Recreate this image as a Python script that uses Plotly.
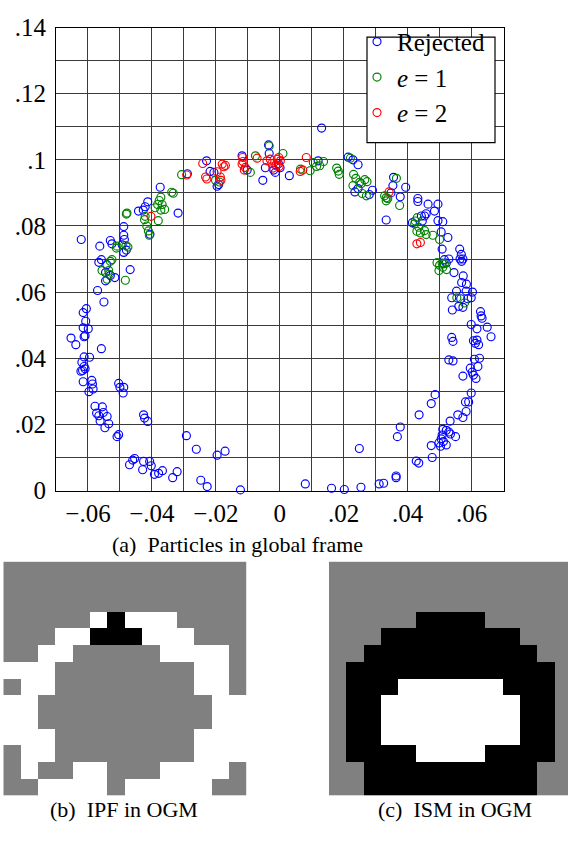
import plotly.graph_objects as go

# ---------------- data ----------------
rej_x = [
    -0.0570, -0.0550, -0.0605, -0.0615, -0.0607, -0.0615, -0.0599, -0.0609, -0.0612, -0.0653,
    -0.0638, -0.0558, -0.0612, -0.0595, -0.0619, -0.0612, -0.0617, -0.0609, -0.0622, -0.0615,
    -0.0588, -0.0586, -0.0584, -0.0597, -0.0504, -0.0500, -0.0488, -0.0490, -0.0578, -0.0555,
    -0.0573, -0.0566, -0.0552, -0.0540, -0.0562, -0.0535, -0.0547, -0.0426, -0.0423, -0.0413,
    -0.0504, -0.0509, -0.0292, -0.0261, -0.0454, -0.0460, -0.0470, -0.0426, -0.0407, -0.0429,
    -0.0402, -0.0392, -0.0379, -0.0367, -0.0335, -0.0321, -0.0247, -0.0227, -0.0196, -0.0171,
    -0.0123,
    0.0080, 0.0162, 0.0202, 0.0254, 0.0249, 0.0311, 0.0325, 0.0364, 0.0364, 0.0368,
    0.0377, 0.0436, 0.0474, 0.0486, 0.0427, 0.0435, 0.0477, 0.0474, 0.0503, 0.0521,
    0.0498, 0.0512, 0.0505, 0.0508, 0.0550, 0.0534, 0.0529, 0.0521, 0.0510, 0.0533,
    0.0573, 0.0557, 0.0583, 0.0581, 0.0591, 0.0599, 0.0573, 0.0614, 0.0606, 0.0602,
    0.0596, 0.0620, 0.0609, 0.0625, 0.0529, 0.0542, 0.0606, 0.0617, 0.0612, 0.0622,
    0.0538, 0.0542, 0.0661, 0.0649, 0.0617, 0.0599, 0.0628, 0.0630, 0.0633, 0.0540,
    0.0560, 0.0573, 0.0566, 0.0588, 0.0599, 0.0538, 0.0553, 0.0583, 0.0603, 0.0545,
    0.0574, 0.0569, 0.0584, 0.0515, 0.0564, 0.0569,
    -0.0621, -0.0563, -0.0530, -0.0525, -0.0488, -0.0488, -0.0486, -0.0493, -0.0488, -0.0480,
    -0.0442, -0.0421, -0.0413, -0.0427, -0.0374, -0.0318, -0.0406, -0.0289, -0.0558, -0.0566,
    -0.0541, -0.0545, -0.0530, -0.0516, -0.0545, -0.0468,
    -0.0229, -0.0206, -0.0218, -0.0191, -0.0196, -0.0118, -0.0102, -0.0053, -0.0035, -0.0033,
    -0.0004, 0.0001, -0.0019, -0.0014, 0.0030, -0.0045,
    0.0131, 0.0120, 0.0214, 0.0229, 0.0245, 0.0245, 0.0235, 0.0290, 0.0280, 0.0356,
    0.0354, 0.0348, 0.0377, 0.0394, 0.0333, 0.0432, 0.0432, 0.0464, 0.0495, 0.0484,
    0.0443, 0.0453, 0.0458, 0.0446, 0.0495, 0.0510, 0.0505, 0.0526, 0.0508, 0.0563,
    0.0568, 0.0573, 0.0521, 0.0529, 0.0415,
]
rej_y = [
    0.0605, 0.0570, 0.0550, 0.0538, 0.0512, 0.0492, 0.0489, 0.0468, 0.0465, 0.0461,
    0.0441, 0.0429, 0.0404, 0.0403, 0.0388, 0.0375, 0.0363, 0.0368, 0.0361, 0.0329,
    0.0333, 0.0322, 0.0307, 0.0299, 0.0324, 0.0312, 0.0312, 0.0295, 0.0255, 0.0253,
    0.0234, 0.0226, 0.0236, 0.0224, 0.0210, 0.0202, 0.0190, 0.0229, 0.0219, 0.0209,
    0.0169, 0.0163, 0.0166, 0.0125, 0.0097, 0.0092, 0.0078, 0.0088, 0.0088, 0.0063,
    0.0075, 0.0049, 0.0052, 0.0060, 0.0039, 0.0057, 0.0031, 0.0012, 0.0107, 0.0119,
    0.0002,
    0.0020, 0.0007, 0.0003, 0.0010, 0.0127, 0.0020, 0.0022, 0.0044, 0.0039, 0.0163,
    0.0192, 0.0229, 0.0263, 0.0290, 0.0089, 0.0083, 0.0100, 0.0136, 0.0134, 0.0138,
    0.0144, 0.0148, 0.0156, 0.0168, 0.0163, 0.0171, 0.0177, 0.0182, 0.0185, 0.0210,
    0.0221, 0.0229, 0.0239, 0.0268, 0.0268, 0.0295, 0.0346, 0.0339, 0.0349, 0.0358,
    0.0370, 0.0375, 0.0397, 0.0400, 0.0395, 0.0392, 0.0453, 0.0455, 0.0445, 0.0441,
    0.0463, 0.0451, 0.0465, 0.0494, 0.0489, 0.0502, 0.0541, 0.0528, 0.0521, 0.0546,
    0.0557, 0.0554, 0.0580, 0.0580, 0.0583, 0.0583, 0.0603, 0.0603, 0.0600, 0.0659,
    0.0649, 0.0629, 0.0624, 0.0698, 0.0700, 0.0693,
    0.0759, 0.0739, 0.0756, 0.0746, 0.0798, 0.0772, 0.0759, 0.0743, 0.0720, 0.0727,
    0.0845, 0.0858, 0.0873, 0.0848, 0.0917, 0.0839, 0.0775, 0.0958, 0.0698, 0.0690,
    0.0683, 0.0659, 0.0650, 0.0644, 0.0634, 0.0668,
    0.0997, 0.0962, 0.0965, 0.0925, 0.0920, 0.1012, 0.0969, 0.0938, 0.1045, 0.1019,
    0.0988, 0.0976, 0.0969, 0.0962, 0.0952, 0.0976,
    0.1096, 0.0997, 0.1008, 0.1000, 0.0985, 0.0913, 0.0903, 0.0908, 0.0895, 0.0947,
    0.0922, 0.0900, 0.0888, 0.0917, 0.0818, 0.0883, 0.0874, 0.0866, 0.0866, 0.0845,
    0.0830, 0.0830, 0.0837, 0.0815, 0.0816, 0.0813, 0.0782, 0.0765, 0.0730, 0.0730,
    0.0714, 0.0700, 0.0688, 0.0700, 0.0810,
]

e1_x = [
    -0.0509, -0.0511, -0.0475, -0.0481, -0.0478, -0.0480, -0.0372, -0.0377, -0.0382, -0.0368,
    -0.0360, -0.0372, -0.0390, -0.0338, -0.0333, -0.0421, -0.0423, -0.0416, -0.0411, -0.0408,
    -0.0380, -0.0307, -0.0530, -0.0525, -0.0556, -0.0535, -0.0533, -0.0540, -0.0483,
    -0.0201, -0.0189, -0.0092, -0.0076, -0.0033, 0.0010, 0.0065, 0.0095, 0.0105, 0.0115,
    0.0137, 0.0125, 0.0178, 0.0183, 0.0186, 0.0221, 0.0231, 0.0238, 0.0250, 0.0255,
    0.0266, 0.0273, 0.0229, 0.0258, 0.0271, 0.0365, 0.0328, 0.0333, 0.0338, 0.0333,
    0.0375, 0.0422, 0.0424, 0.0430, 0.0435, 0.0429, 0.0440, 0.0453, 0.0458, 0.0479,
    0.0500, 0.0492, 0.0500, 0.0508, 0.0515, 0.0498, 0.0510, 0.0522, 0.0554, 0.0578,
]
e1_y = [
    0.0739, 0.0733, 0.0736, 0.0741, 0.0839, 0.0836, 0.0887, 0.0877, 0.0865, 0.0865,
    0.0850, 0.0848, 0.0855, 0.0902, 0.0899, 0.0829, 0.0819, 0.0800, 0.0785, 0.0772,
    0.0816, 0.0955, 0.0693, 0.0698, 0.0665, 0.0665, 0.0654, 0.0639, 0.0636,
    0.0938, 0.0933, 0.0962, 0.1012, 0.1042, 0.1019, 0.0972, 0.0967, 0.0992, 0.0980,
    0.0995, 0.0982, 0.0975, 0.0966, 0.0956, 0.1005, 0.0956, 0.0944, 0.0932, 0.0928,
    0.0940, 0.0934, 0.0922, 0.0898, 0.0891, 0.0944, 0.0891, 0.0885, 0.0883, 0.0876,
    0.0862, 0.0806, 0.0815, 0.0825, 0.0796, 0.0784, 0.0779, 0.0786, 0.0774, 0.0772,
    0.0759, 0.0689, 0.0681, 0.0688, 0.0686, 0.0665, 0.0675, 0.0668, 0.0583, 0.0567,
]

e2_x = [
    -0.0403, -0.0291, -0.0241, -0.0232, -0.0228, -0.0196, -0.0180, -0.0175, -0.0170, -0.0186,
    -0.0184, -0.0116, -0.0115, -0.0118, -0.0111, -0.0108, -0.0071, -0.0040, -0.0030, -0.0025,
    -0.0008, -0.0003, 0.0002, -0.0012, -0.0002, -0.0021, 0.0083, 0.0072, 0.0064, 0.0342,
    0.0429, 0.0440,
]
e2_y = [
    0.0829, 0.0954, 0.0989, 0.0948, 0.0942, 0.0964, 0.0987, 0.0979, 0.0983, 0.0948,
    0.0938, 0.1007, 0.0995, 0.0987, 0.0969, 0.0977, 0.1005, 0.0997, 0.1002, 0.0989,
    0.1002, 0.1007, 0.0997, 0.0983, 0.0980, 0.0975, 0.1007, 0.0969, 0.0965, 0.0903,
    0.0746, 0.0750,
]

series_names = ["Rejected", "<i>e</i> = 1", "<i>e</i> = 2"]

x_tick_vals = [-0.07, -0.06, -0.05, -0.04, -0.03, -0.02, -0.01, 0.0,
               0.01, 0.02, 0.03, 0.04, 0.05, 0.06, 0.07]
x_tick_text = ["", "−.06", "", "−.04", "", "−.02", "", "0",
               "", ".02", "", ".04", "", ".06", ""]
y_tick_vals = [0.0, 0.01, 0.02, 0.03, 0.04, 0.05, 0.06, 0.07,
               0.08, 0.09, 0.10, 0.11, 0.12, 0.13, 0.14]
y_tick_text = ["0", "", ".02", "", ".04", "", ".06", "",
               ".08", "", ".1", "", ".12", "", ".14"]

# occupancy grids: 0 = occupied (black), 0.5 = unknown (gray), 1 = free (white)
ipf_grid = [
    [.5, .5, .5, .5, .5, .5, .5, .5, .5, .5, .5, .5, .5, .5],
    [.5, .5, .5, .5, .5, .5, .5, .5, .5, .5, .5, .5, .5, .5],
    [.5, .5, .5, .5, .5, .5, .5, .5, .5, .5, .5, .5, .5, .5],
    [.5, .5, .5, .5, .5, 1, 0, 1, 1, 1, .5, .5, .5, .5],
    [.5, .5, .5, 1, 1, 0, 0, 0, 1, 1, 1, .5, .5, .5],
    [.5, .5, 1, 1, .5, .5, .5, .5, .5, 1, 1, 1, 1, .5],
    [1, 1, 1, .5, .5, .5, .5, .5, .5, .5, .5, 1, 1, .5],
    [.5, 1, 1, .5, .5, .5, .5, .5, .5, .5, .5, 1, 1, .5],
    [1, 1, .5, .5, .5, .5, .5, .5, .5, .5, .5, .5, 1, 1],
    [1, 1, .5, .5, .5, .5, .5, .5, .5, .5, .5, .5, 1, 1],
    [1, 1, 1, .5, .5, .5, .5, .5, .5, .5, .5, 1, 1, 1],
    [.5, 1, 1, .5, .5, .5, .5, .5, .5, .5, .5, 1, 1, 1],
    [.5, 1, .5, .5, 1, 1, .5, .5, .5, 1, 1, 1, 1, .5],
    [.5, .5, 1, 1, 1, 1, .5, 1, 1, 1, 1, 1, .5, .5],
]
ism_grid = [
    [.5, .5, .5, .5, .5, .5, .5, .5, .5, .5, .5, .5, .5, .5],
    [.5, .5, .5, .5, .5, .5, .5, .5, .5, .5, .5, .5, .5, .5],
    [.5, .5, .5, .5, .5, .5, .5, .5, .5, .5, .5, .5, .5, .5],
    [.5, .5, .5, .5, .5, 0, 0, 0, 0, .5, .5, .5, .5, .5],
    [.5, .5, .5, 0, 0, 0, 0, 0, 0, 0, 0, .5, .5, .5],
    [.5, .5, 0, 0, 0, 0, 0, 0, 0, 0, 0, 0, .5, .5],
    [.5, 0, 0, 0, 0, 0, 0, 0, 0, 0, 0, 0, 0, .5],
    [.5, 0, 0, 0, 1, 1, 1, 1, 1, 1, 0, 0, 0, .5],
    [.5, 0, 0, 1, 1, 1, 1, 1, 1, 1, 1, 0, 0, .5],
    [.5, 0, 0, 1, 1, 1, 1, 1, 1, 1, 1, 0, 0, .5],
    [.5, 0, 0, 1, 1, 1, 1, 1, 1, 1, 1, 0, 0, .5],
    [.5, 0, 0, 0, 0, 1, 1, 1, 1, 0, 0, 0, 0, .5],
    [.5, .5, 0, 0, 0, 0, 0, 0, 0, 0, 0, 0, .5, .5],
    [.5, .5, 0, 0, 0, 0, 0, 0, 0, 0, 0, 0, .5, .5],
]

captions = ["(a)  Particles in global frame", "(b)  IPF in OGM", "(c)  ISM in OGM"]

# ---------------- figure ----------------
W, H = 568, 845
FONT = "Liberation Serif"

def px(v):
    return v / W

def py(v):
    return 1 - v / H

fig = go.Figure()

colors = ["#0000ff", "#008000", "#ff0000"]
for name, xs, ys, c in zip(series_names, [rej_x, e1_x, e2_x], [rej_y, e1_y, e2_y], colors):
    fig.add_trace(go.Scatter(
        x=xs, y=ys, mode="markers", name=name, cliponaxis=False,
        marker=dict(symbol="circle-open", size=8, color=c, line=dict(width=1.15, color=c)),
        xaxis="x", yaxis="y",
    ))

gray_scale = [[0, "#000000"], [0.5, "#808080"], [1, "#ffffff"]]
fig.add_trace(go.Heatmap(z=ipf_grid, zmin=0, zmax=1, colorscale=gray_scale, showlegend=False,
                         showscale=False, xaxis="x2", yaxis="y2", hoverinfo="skip"))
fig.add_trace(go.Heatmap(z=ism_grid, zmin=0, zmax=1, colorscale=gray_scale, showlegend=False,
                         showscale=False, xaxis="x3", yaxis="y3", hoverinfo="skip"))

axis_common = dict(
    showline=True, linecolor="black", linewidth=1.2, mirror=True,
    showgrid=True, gridcolor="#3a3a3a", gridwidth=1, zeroline=False,
    ticks="", tickfont=dict(family=FONT, size=25, color="black"),
    tickmode="array", fixedrange=True,
)

fig.update_layout(
    width=W, height=H, margin=dict(l=0, r=0, t=0, b=0),
    paper_bgcolor="white", plot_bgcolor="white",
    font=dict(family=FONT, color="black"),
    showlegend=True,
    legend=dict(
        x=px(490), y=py(6), xanchor="right", yanchor="top",
        bgcolor="rgba(0,0,0,0)", borderwidth=0,
        font=dict(family=FONT, size=25, color="black"),
        itemsizing="trace", tracegroupgap=0,
    ),
    xaxis=dict(domain=[px(56), px(503.5)], range=[-0.07, 0.07],
               tickvals=x_tick_vals, ticktext=x_tick_text, anchor="y", **axis_common),
    yaxis=dict(domain=[py(493.3), py(15)], range=[0, 0.14], ticklabelstandoff=4,
               tickvals=y_tick_vals, ticktext=y_tick_text, anchor="x", **axis_common),
    xaxis2=dict(domain=[px(3.3), px(246.7)], range=[-0.5, 13.5], visible=False,
                anchor="y2", fixedrange=True),
    yaxis2=dict(domain=[py(808.3), py(566.7)], range=[13.5, -0.5], visible=False,
                anchor="x2", fixedrange=True),
    xaxis3=dict(domain=[px(329), 1.0], range=[-0.5, 13.25], visible=False,
                anchor="y3", fixedrange=True),
    yaxis3=dict(domain=[py(808.3), py(566.7)], range=[13.5, -0.5], visible=False,
                anchor="x3", fixedrange=True),
    shapes=[dict(type="rect", xref="paper", yref="paper",
                 x0=px(367), x1=px(495), y0=py(134), y1=py(25),
                 fillcolor="white", line=dict(color="black", width=1.2), layer="above")],
)

cap_pos = [(237, 549), (123.5, 823), (455, 823)]
for text, (cx, cy) in zip(captions, cap_pos):
    fig.add_annotation(text=text, x=px(cx), y=py(cy), xref="paper", yref="paper",
                       xanchor="center", yanchor="middle", showarrow=False,
                       font=dict(family=FONT, size=22, color="black"))

fig.write_html("out.html")
